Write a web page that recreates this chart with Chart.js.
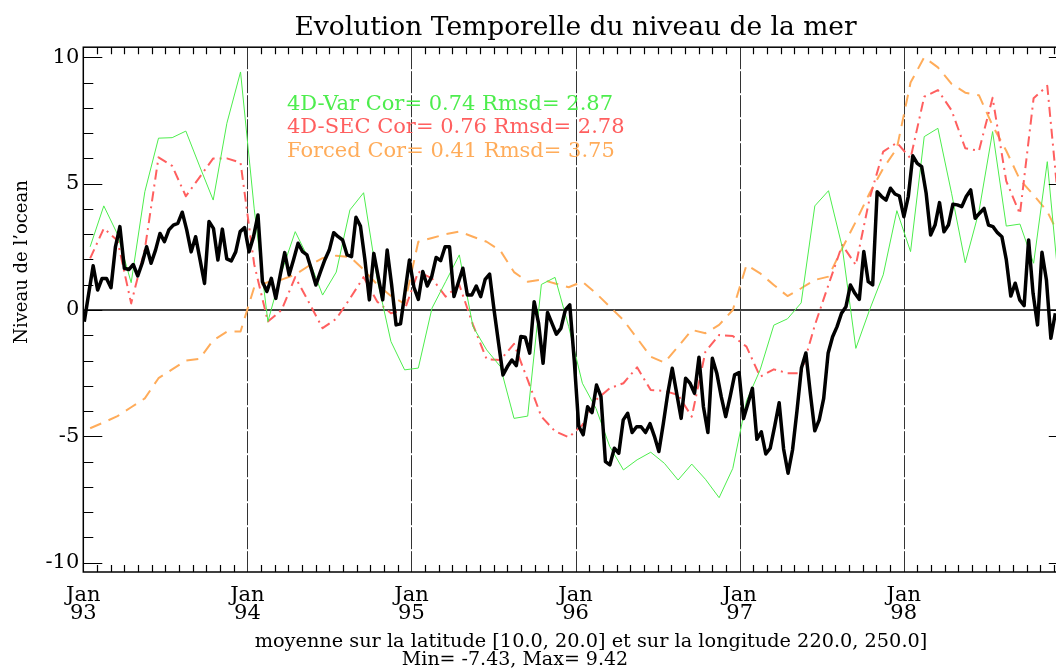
<!DOCTYPE html>
<html>
<head>
<meta charset="utf-8">
<script src="https://cdn.jsdelivr.net/npm/chart.js@4.4.1/dist/chart.umd.min.js"></script>
<style>
  html, body { margin: 0; padding: 0; background: #fff; overflow: hidden; width: 1056px; height: 668px; }
  #wrap { width: 1080px; height: 668px; }
</style>
</head>
<body>
<div id="wrap"><canvas id="chart" width="1080" height="668"></canvas></div>
<script>
// Sea level anomaly (cm), box average lat [10,20] lon [220,250], Jan 1993 - Dec 1998

// altimetry, one value per ~10-day repeat cycle
const obs93 = [-0.46, 0.65, 1.75, 0.79, 1.25, 1.25, 0.88, 2.5, 3.3, 1.65, 1.6, 1.8, 1.35, 1.85, 2.5, 1.85, 2.37, 3.03, 2.7,
  3.17, 3.36, 3.43, 3.87, 3.17, 2.3, 2.9, 1.98, 1.05, 3.5, 3.23, 1.98, 3.2, 2.02, 1.94, 2.3, 3.1, 3.26]
const obs94 = [2.3, 2.9, 3.76, 1.12, 0.73, 1.25, 0.46, 1.39, 2.27, 1.39, 2.0, 2.64, 2.31, 2.18, 1.6, 0.99, 1.5, 1.98, 2.37,
  3.06, 2.9, 2.77, 2.18, 2.11, 3.67, 3.32, 2.0, 0.4, 2.24, 1.3, 0.4, 2.37, 1.0, -0.59, -0.55, 0.7, 1.98, 0.9]
const obs95 = [0.42, 1.52, 0.95, 1.32, 2.08, 1.95, 2.5, 2.5, 0.53, 1.1, 1.65, 0.59, 0.59, 0.95, 0.53, 1.21, 1.42, 0.0, -1.3,
  -2.57, -2.24, -1.98, -2.2, -1.05, -1.08, -1.71, 0.33, -0.53, -2.11, -0.1, -0.53, -0.96, -0.73, 0.0, 0.2, -2.0, -4.6]
const obs96 = [-4.94, -3.83, -4.06, -2.97, -3.43, -6.0, -6.13, -5.47, -5.67, -4.35, -4.09, -4.85, -4.62, -4.62, -4.85, -4.5,
  -5.0, -5.6, -4.49, -3.3, -2.31, -3.3, -4.29, -2.7, -2.9, -3.3, -1.87, -3.83, -4.85, -1.91, -2.5, -3.43, -4.22, -3.43,
  -2.57, -2.48, -4.3]
const obs97 = [-3.7, -3.1, -5.12, -4.82, -5.7, -5.47, -4.6, -3.67, -5.5, -6.46, -5.54, -4.0, -2.3, -1.7, -3.3, -4.78, -4.35,
  -3.5, -1.7, -1.06, -0.66, -0.13, 0.13, 0.99, 0.66, 0.42, 2.31, 1.12, 0.99, 4.68, 4.49, 4.35, 4.82, 4.59, 4.51, 3.69, 4.5]
const obs98 = [6.1, 5.8, 5.67, 4.62, 2.97, 3.36, 4.25, 3.1, 3.36, 4.18, 4.16, 4.09, 4.49, 4.75, 3.63, 3.83, 4.02, 3.36, 3.3,
  3.06, 2.9, 1.98, 0.55, 1.06, 0.4, 0.17, 2.77, 0.66, -0.59, 2.28, 1.19, -1.12, -0.13]

// model runs, monthly means
const var4d = [2.5, 4.12, 3.0, 1.08, 4.68, 6.8, 6.82, 7.08, 5.7, 4.35, 7.39, 9.42,
  4.0, -0.46, 1.5, 3.1, 2.0, 0.59, 1.5, 3.96, 4.64, 1.2, -1.25, -2.37,
  -2.3, 0.07, 1.12, 2.18, -0.66, -1.58, -2.24, -4.29, -4.2, 1.01, 1.29, -0.66,
  -2.9, -3.9, -5.4, -6.33, -5.93, -5.63, -6.07, -6.73, -6.1, -6.7, -7.43, -6.27,
  -3.6, -2.37, -0.6, -0.35, 0.28, 4.12, 4.72, 2.5, -1.52, 0.0, 1.39, 3.93,
  2.31, 6.86, 7.19, 4.62, 1.87, 3.89, 7.06, 3.32, 3.4, 1.85, 5.87, 0.1]
const sec4d = [2.04, 3.23, 2.75, 0.26, 2.4, 6.04, 5.7, 4.5, 5.25, 6.0, 6.0, 5.83,
  1.8, -0.46, 0.0, 1.3, 0.3, -0.72, -0.35, 0.45, 1.3, 0.33, -0.13, 0.0,
  1.52, 1.25, 0.53, 0.99, -0.59, -1.95, -1.98, -1.34, -2.77, -4.22, -4.8, -5.04,
  -4.55, -3.56, -3.1, -2.9, -2.27, -3.17, -3.2, -3.36, -4.22, -1.65, -0.99, -1.03,
  -1.45, -2.64, -2.35, -2.5, -2.5, -0.6, 1.0, 2.57, 1.78, 4.4, 6.27, 6.62,
  6.0, 8.44, 8.7, 7.9, 6.4, 6.3, 8.4, 5.1, 3.8, 8.38, 8.87, 3.2]
const forced = [-4.68, -4.45, -4.2, -3.85, -3.5, -2.7, -2.35, -2.0, -1.93, -1.2, -0.86, -0.85,
  0.9, 1.1, 1.2, 1.4, 1.75, 2.05, 2.15, 2.1, 1.6, 1.0, 0.55, 0.25,
  2.7, 2.85, 3.0, 3.1, 2.9, 2.7, 2.35, 1.5, 1.12, 1.2, 1.05, 0.9,
  1.12, 0.66, 0.13, -0.4, -1.12, -1.85, -2.08, -1.45, -0.79, -0.92, -0.59, 0.0,
  1.78, 1.45, 0.99, 0.55, 0.86, 1.19, 1.32, 2.44, 3.5, 4.62, 5.6, 6.4,
  9.0, 10.0, 9.6, 8.95, 8.6, 8.5, 7.3, 6.3, 5.15, 4.55, 3.9, 2.8]

// scores against altimetry
const runNames = ['4D-Var', '4D-SEC', 'Forced']
const runCor = [0.74, 0.76, 0.41]
const runRmsd = [2.87, 2.78, 3.75]
const runColors = ['#4ded4d', '#ff5f5f', '#ffac5a']

const yearLabels = ['93', '94', '95', '96', '97', '98']
const yearStarts = [0, 12, 24, 36, 48, 60]
const latRange = [10.0, 20.0]
const lonRange = [220.0, 250.0]

const SERIF = '"DejaVu Serif", serif'

// time axis in months since Jan 1993
const CYCLE = 9.9156 / 30.4375
const FIRST_CYCLE = 0.07
const altimetry = [].concat(obs93, obs94, obs95, obs96, obs97, obs98)
  .map((v, i) => ({ x: FIRST_CYCLE + i * CYCLE, y: v }))
const monthly = arr => arr.map((v, m) => ({ x: m + 0.5, y: v }))

const frame = {
  id: 'frame',
  beforeDatasetsDraw(chart) {
    const { ctx, chartArea: a, scales: { x, y } } = chart
    ctx.save()
    ctx.strokeStyle = '#333'
    ctx.lineWidth = 1
    ctx.setLineDash([22, 2])
    yearStarts.slice(1).forEach(m => {
      const px = Math.round(x.getPixelForValue(m)) + 0.5
      ctx.beginPath(); ctx.moveTo(px, a.top); ctx.lineTo(px, a.bottom); ctx.stroke()
    })
    ctx.setLineDash([])
    ctx.strokeStyle = '#000'
    ctx.lineWidth = 1.5
    const py = y.getPixelForValue(0)
    ctx.beginPath(); ctx.moveTo(a.left, py); ctx.lineTo(a.right, py); ctx.stroke()
    ctx.restore()
  },
  afterDatasetsDraw(chart) {
    const { ctx, chartArea: a, scales: { x, y } } = chart
    ctx.save()
    ctx.strokeStyle = '#000'
    ctx.lineWidth = 1.5
    ctx.strokeRect(a.left, a.top, a.right - a.left, a.bottom - a.top)

    // inward ticks: months on x, 1 cm minor / 5 cm major on y
    ctx.lineWidth = 1.2
    ctx.beginPath()
    for (let m = 1; m < 72; m++) {
      if (m % 12 === 0) continue
      const px = Math.round(x.getPixelForValue(m)) + 0.5
      ctx.moveTo(px, a.bottom); ctx.lineTo(px, a.bottom - 7)
      ctx.moveTo(px, a.top); ctx.lineTo(px, a.top + 7)
    }
    for (let v = -10; v <= 10; v++) {
      const py = Math.round(y.getPixelForValue(v)) + 0.5
      const len = v % 5 === 0 ? 19 : 10
      ctx.moveTo(a.left, py); ctx.lineTo(a.left + len, py)
      ctx.moveTo(a.right, py); ctx.lineTo(a.right - len, py)
    }
    ctx.stroke()

    // run scores
    ctx.font = '21px ' + SERIF
    ctx.textAlign = 'left'
    ctx.textBaseline = 'alphabetic'
    runNames.forEach((name, i) => {
      ctx.fillStyle = runColors[i]
      ctx.fillText(`${name} Cor= ${runCor[i].toFixed(2)} Rmsd= ${runRmsd[i].toFixed(2)}`, 287, 109.5 + i * 23.5)
    })

    // y axis title
    ctx.fillStyle = '#000'
    ctx.font = '18px ' + SERIF
    ctx.save()
    ctx.translate(22, 262)
    ctx.rotate(-Math.PI / 2)
    ctx.textAlign = 'center'
    ctx.textBaseline = 'middle'
    ctx.fillText('Niveau de l\u2019ocean', 0, 0)
    ctx.restore()

    // area and range notes
    ctx.textAlign = 'center'
    ctx.font = '19.3px ' + SERIF
    ctx.fillText(`moyenne sur la latitude [${latRange[0].toFixed(1)}, ${latRange[1].toFixed(1)}] et sur la longitude ${lonRange[0].toFixed(1)}, ${lonRange[1].toFixed(1)}]`, 591, 646.5)
    ctx.font = '19px ' + SERIF
    const lo = Math.min(...var4d), hi = Math.max(...var4d)
    ctx.fillText(`Min= ${lo.toFixed(2)}, Max= ${hi.toFixed(2)}`, 515, 664.5)
    ctx.restore()
  }
}

const ctx = document.getElementById('chart').getContext('2d')
new Chart(ctx, {
  type: 'line',
  data: {
    datasets: [
      { label: 'Altimetrie', data: altimetry, borderColor: '#000', borderWidth: 3.5 },
      { label: runNames[0], data: monthly(var4d), borderColor: runColors[0], borderWidth: 1 },
      { label: runNames[1], data: monthly(sec4d), borderColor: runColors[1], borderWidth: 2, borderDash: [10, 5, 2, 5] },
      { label: runNames[2], data: monthly(forced), borderColor: runColors[2], borderWidth: 2, borderDash: [12, 8] }
    ]
  },
  options: {
    responsive: false,
    animation: false,
    events: [],
    elements: { point: { radius: 0 }, line: { tension: 0, borderJoinStyle: 'round' } },
    layout: { padding: { left: 0, right: 12.2, top: 0, bottom: 0 } },
    plugins: {
      legend: { display: false },
      tooltip: { enabled: false },
      title: {
        display: true,
        text: 'Evolution Temporelle du niveau de la mer',
        fullSize: false,
        color: '#000',
        font: { family: SERIF, size: 26.5, weight: 'normal', lineHeight: 1.2 },
        padding: { top: 12.4, bottom: 3.0 }
      }
    },
    scales: {
      x: {
        type: 'linear',
        min: 0,
        max: 72,
        grid: { display: false, drawTicks: false },
        border: { display: false },
        afterFit: s => { s.height = 96 },
        afterBuildTicks: s => { s.ticks = yearStarts.map(v => ({ value: v })) },
        ticks: {
          autoSkip: false,
          maxRotation: 0,
          padding: 14,
          color: '#000',
          font: { family: SERIF, size: 21, lineHeight: 0.87 },
          callback: v => ['Jan', yearLabels[v / 12]]
        }
      },
      y: {
        min: -10.37,
        max: 10.40,
        grid: { display: false, drawTicks: false },
        border: { display: false },
        afterFit: s => { s.width = 83.3 },
        afterBuildTicks: s => { s.ticks = [-10, -5, 0, 5, 10].map(v => ({ value: v })) },
        ticks: {
          padding: 4,
          color: '#000',
          font: { family: SERIF, size: 21 },
          callback: v => String(v)
        }
      }
    }
  },
  plugins: [frame]
})
</script>
</body>
</html>
